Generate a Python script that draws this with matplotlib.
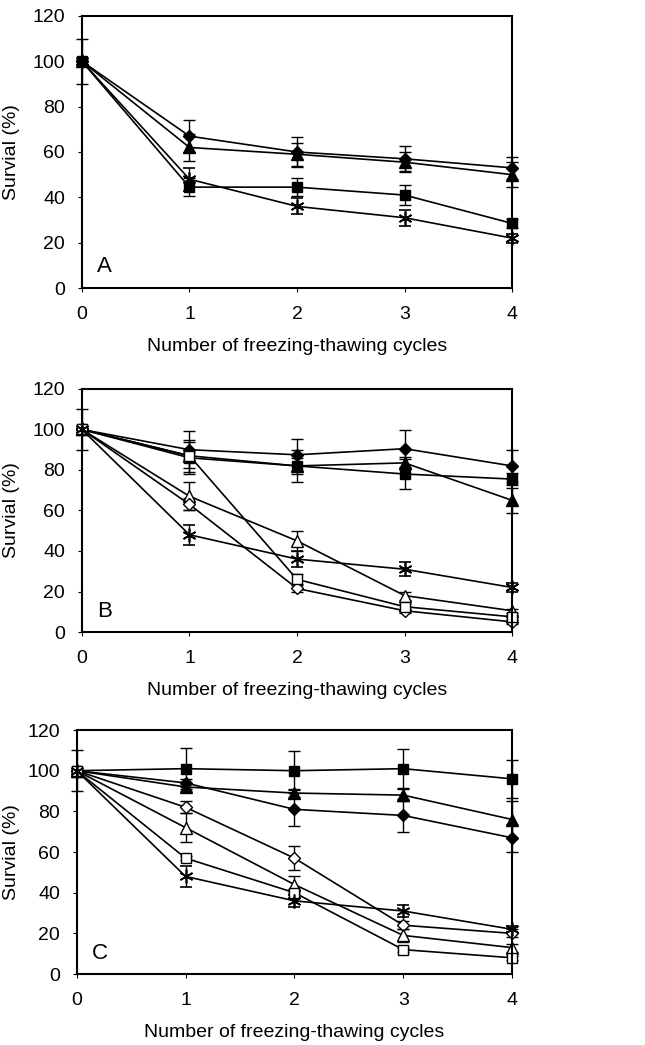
import matplotlib
matplotlib.use("Agg")
import matplotlib.pyplot as plt
from matplotlib.transforms import blended_transform_factory

plt.rcParams["font.family"] = ["Liberation Sans", "DejaVu Sans"]

cycles = [0, 1, 2, 3, 4]
yticks = [0, 20, 40, 60, 80, 100, 120]
xlabel = "Number of freezing-thawing cycles"
ylabel = "Survial (%)"

# panel A
a_diamond = [100, 67, 60, 57, 53]
a_diamond_err = [0, 7, 6.5, 5.5, 5]
a_triangle = [100, 62, 59, 55.5, 50]
a_triangle_err = [10, 6, 5, 4.5, 5.5]
a_square = [100, 44.5, 44.5, 41, 28.5]
a_square_err = [0, 4, 4, 4.5, 2]
a_star = [100, 48, 36, 31, 22]
a_star_err = [0, 5, 3.5, 3.5, 2]

# panel B
b_diamond = [100, 90, 87.5, 90.5, 82]
b_diamond_err = [10, 9, 8, 9, 8]
b_triangle = [100, 87, 82, 83.5, 65]
b_triangle_err = [0, 8, 4, 3, 6]
b_square = [100, 86, 82, 78, 75.5]
b_square_err = [0, 8, 8, 7.5, 3]
b_open_triangle = [100, 67, 45, 18, 10.5]
b_open_triangle_err = [0, 7, 5, 2, 1]
b_open_diamond = [100, 63, 21.5, 10.5, 5]
b_open_diamond_err = [0, 3, 1.5, 1, 1]
b_open_square = [100, 87, 26, 12.5, 7.5]
b_open_square_err = [0, 2, 2.5, 1.5, 1]
b_star = [100, 48, 36, 31, 22]
b_star_err = [0, 5, 4, 3.5, 2]

# panel C
c_square = [100, 101, 100, 101, 96]
c_square_err = [10, 10, 9.5, 9.5, 9.5]
c_triangle = [100, 92, 89, 88, 76]
c_triangle_err = [0, 2, 2, 3, 9]
c_diamond = [100, 94, 81, 78, 67]
c_diamond_err = [0, 2, 8, 8, 7]
c_open_diamond = [100, 82, 57, 24, 20]
c_open_diamond_err = [0, 3, 6, 2, 2]
c_open_triangle = [100, 72, 44, 19, 13]
c_open_triangle_err = [0, 7, 4, 3, 2]
c_open_square = [100, 57, 40, 12, 8]
c_open_square_err = [0, 1, 2, 1, 1]
c_star = [100, 48, 36, 31, 22]
c_star_err = [0, 5, 3, 3, 1.5]

STAR = (6, 2, 0)
styles = {
    "diamond": dict(marker="D", ms=6.5, mfc="black"),
    "triangle": dict(marker="^", ms=8, mfc="black"),
    "square": dict(marker="s", ms=7.5, mfc="black"),
    "open_diamond": dict(marker="D", ms=6.5, mfc="white"),
    "open_triangle": dict(marker="^", ms=8, mfc="white"),
    "open_square": dict(marker="s", ms=7.5, mfc="white"),
    "star": dict(marker=STAR, ms=10, mfc="black", mew=1.2),
}


def draw_panel(fig, ax, series, letter):
    for kind, vals, err in series:
        st = dict(mew=1.0)
        st.update(styles[kind])
        _, caps, bars = ax.errorbar(cycles, vals, yerr=err, color="black", lw=1.2, mec="black",
                                    capsize=4, capthick=1.0, elinewidth=1.0, clip_on=False, **st)
        for c in caps:
            c.set_clip_on(False)
        for b in bars:
            b.set_clip_on(False)
    ax.set_xlim(0, 4)
    ax.set_ylim(0, 120)
    ax.set_xticks(cycles)
    ax.set_yticks(yticks)
    ax.tick_params(direction="out", length=3, width=0.8, labelsize=14)
    ax.tick_params(axis="y", pad=9)
    ax.tick_params(axis="x", pad=10)
    for sp in ax.spines.values():
        sp.set_linewidth(1.5)
    ax.set_ylabel(ylabel, fontsize=14)
    ax.yaxis.set_label_coords(20 / 645, 0.5,
                              transform=blended_transform_factory(fig.transFigure, ax.transAxes))
    ax.set_xlabel(xlabel, fontsize=14, labelpad=11)
    ax.text(0.035, 0.06, letter, transform=ax.transAxes, fontsize=16)


fig = plt.figure(figsize=(6.45, 10.45), dpi=100)
ax_a = fig.add_axes([0.127, 0.7244, 0.667, 0.2603])
ax_b = fig.add_axes([0.127, 0.3952, 0.667, 0.2326])
ax_c = fig.add_axes([0.119, 0.0679, 0.675, 0.2335])

draw_panel(fig, ax_a, [
    ("diamond", a_diamond, a_diamond_err),
    ("triangle", a_triangle, a_triangle_err),
    ("square", a_square, a_square_err),
    ("star", a_star, a_star_err),
], "A")

draw_panel(fig, ax_b, [
    ("diamond", b_diamond, b_diamond_err),
    ("triangle", b_triangle, b_triangle_err),
    ("square", b_square, b_square_err),
    ("open_triangle", b_open_triangle, b_open_triangle_err),
    ("open_diamond", b_open_diamond, b_open_diamond_err),
    ("open_square", b_open_square, b_open_square_err),
    ("star", b_star, b_star_err),
], "B")

draw_panel(fig, ax_c, [
    ("square", c_square, c_square_err),
    ("triangle", c_triangle, c_triangle_err),
    ("diamond", c_diamond, c_diamond_err),
    ("open_diamond", c_open_diamond, c_open_diamond_err),
    ("open_triangle", c_open_triangle, c_open_triangle_err),
    ("open_square", c_open_square, c_open_square_err),
    ("star", c_star, c_star_err),
], "C")

fig.savefig("out.png", dpi=100)
